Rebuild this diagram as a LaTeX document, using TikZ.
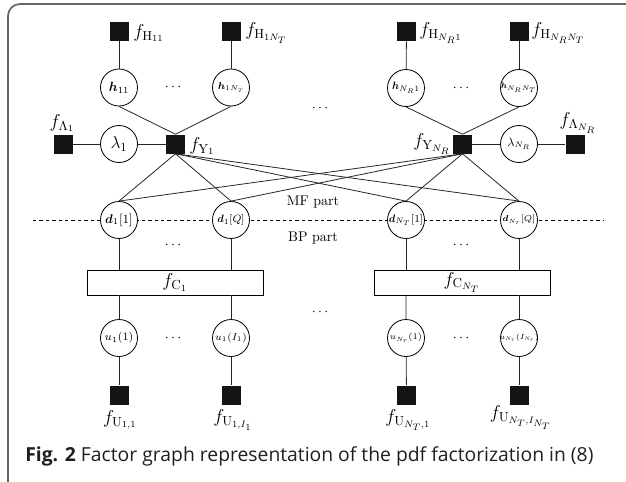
\RequirePackage{fix-cm}
\documentclass[tikz,border=0pt]{standalone}
\usepackage{fontspec}
\usepackage{bm}
\newfontfamily\capfont{Open Sans}
\newcommand{\cz}[2]{\makebox[0pt]{\fontsize{#1}{#1}\selectfont$#2$}}
\begin{document}
\begin{tikzpicture}[x=0.75pt,y=-0.75pt,
  var/.style={circle,draw,fill=white,minimum size=27.75pt,inner sep=0pt,line width=0.6pt},
  fac/.style={rectangle,fill=black!92,minimum size=14.25pt,inner sep=0pt},
  cbox/.style={rectangle,draw,fill=white,minimum width=132pt,minimum height=18.75pt,inner sep=0pt,line width=0.6pt},
  lab/.style={inner sep=0pt,font=\fontsize{14}{16}\selectfont},
  edge/.style={line width=0.6pt,black!85},
  dts/.style={inner sep=0pt,font=\fontsize{10.5}{12}\selectfont}]
\useasboundingbox (0,0) rectangle (626,482);
\clip (0,0) rectangle (626,482);
\draw[black!60,line width=1.3pt,rounded corners=9pt] (8,700) -- (8,4) -- (700,4);

% dashed separator
\draw[dashed,line width=0.6pt,dash pattern=on 2.6pt off 2.2pt] (33,220) -- (603,220);

% factor nodes top
\node[fac] (fH11) at (119,31.5) {};
\node[fac] (fH1N) at (231,31.5) {};
\node[fac] (fHN1) at (406.5,31.5) {};
\node[fac] (fHNN) at (519,31.5) {};
\node[var] (h11) at (119,87.5) {\cz{10}{\bm{h}_{11}}};
\node[var] (h1N) at (231,87.5) {\cz{7.5}{\bm{h}_{1N_T}}};
\node[var] (hN1) at (406,88) {\cz{8}{\bm{h}_{N_R1}}};
\node[var] (hNN) at (519,88) {\cz{6}{\bm{h}_{N_RN_T}}};

\node[fac] (fL1) at (63,144) {};
\node[var] (l1) at (119,144) {\cz{13}{\lambda_1}};
\node[fac] (fY1) at (175.5,144) {};
\node[fac] (fYN) at (462.5,144) {};
\node[var] (lN) at (519,144) {\cz{9}{\lambda_{N_R}}};
\node[fac] (fLN) at (575,144) {};

\node[var] (d11) at (119,220) {\cz{9.5}{\bm{d}_1[1]}};
\node[var] (d1Q) at (231,220) {\cz{8}{\bm{d}_1[Q]}};
\node[var] (dN1) at (406,220) {\cz{8}{\bm{d}_{N_T}[1]}};
\node[var] (dNQ) at (519,220) {\cz{6.5}{\bm{d}_{N_T}[Q]}};

\node[cbox] (fC1) at (175,282.5) {\fontsize{14}{16}\selectfont$f_{\mathrm{C}_1}$};
\node[cbox] (fCN) at (462,282.5) {\fontsize{14}{16}\selectfont$f_{\mathrm{C}_{N_T}}$};

\node[var] (u11) at (119,338) {\cz{8.5}{u_1(1)}};
\node[var] (u1I) at (231,338) {\cz{7.5}{u_1(I_1)}};
\node[var] (uN1) at (406,338) {\cz{6.5}{u_{N_T}(1)}};
\node[var] (uNI) at (519,338) {\cz{5.5}{u_{N_T}(I_{N_T})}};

\node[fac] (fU11) at (119,395) {};
\node[fac] (fU1I) at (231,395) {};
\node[fac] (fUN1) at (406.5,395) {};
\node[fac] (fUNI) at (519,395) {};

% labels
\node[lab,anchor=west] (LH11) at (133,33) {$f_{\mathrm{H}_{11}}$};
\node[lab,anchor=west] (LH1N) at (245,33) {$f_{\mathrm{H}_{1N_T}}$};
\node[lab,anchor=west] (LHN1) at (419,33) {$f_{\mathrm{H}_{N_R1}}$};
\node[lab,anchor=west] (LHNN) at (531,33) {$f_{\mathrm{H}_{N_RN_T}}$};
\node[lab] (LL1) at (62,123) {$f_{\Lambda_1}$};
\node[lab] (LLN) at (578,123) {$f_{\Lambda_{N_R}}$};
\node[lab,anchor=west] (LY1) at (189,146) {$f_{\mathrm{Y}_1}$};
\node[lab,anchor=east] (LYN) at (451,144) {$f_{\mathrm{Y}_{N_R}}$};
\node[lab] (LU11) at (120,420) {$f_{\mathrm{U}_{1,1}}$};
\node[lab] (LU1I) at (233,420) {$f_{\mathrm{U}_{1,I_1}}$};
\node[lab] (LUN1) at (408,420) {$f_{\mathrm{U}_{N_T,1}}$};
\node[lab] (LUNI) at (521,418) {$f_{\mathrm{U}_{N_T,I_{N_T}}}$};

\node[dts] (MF) at (313,202) {MF part};
\node[dts] (BP) at (313,238) {BP part};

% dots
\foreach \n/\x/\y in {a/173/87, b/461/88, c/320/108, d/173/245, e/461/245, f/320/312, g/173/338, h/461/338}
  \node[dts] (dot\n) at (\x,\y) {$\cdots$};

% edges
\draw[edge] (fH11) -- (h11);
\draw[edge] (fH1N) -- (h1N);
\draw[edge] (fHN1) -- (hN1);
\draw[edge] (fHNN) -- (hNN);
\draw[edge] (h11.south) -- (fY1.north);
\draw[edge] (h1N.south) -- (fY1.north);
\draw[edge] (hN1.south) -- (fYN.north);
\draw[edge] (hNN.south) -- (fYN.north);
\draw[edge] (fL1) -- (l1) -- (fY1);
\draw[edge] (fYN) -- (lN) -- (fLN);
\foreach \d in {d11,d1Q,dN1,dNQ}{
  \draw[edge] (fY1.south) -- (\d.north);
  \draw[edge] (fYN.south) -- (\d.north);
}
\draw[edge] (d11) -- (d11 |- fC1.north);
\draw[edge] (d1Q) -- (d1Q |- fC1.north);
\draw[edge] (dN1) -- (dN1 |- fCN.north);
\draw[edge] (dNQ) -- (dNQ |- fCN.north);
\draw[edge] (u11 |- fC1.south) -- (u11) -- (fU11);
\draw[edge] (u1I |- fC1.south) -- (u1I) -- (fU1I);
\draw[edge] (uN1 |- fCN.south) -- (uN1) -- (fUN1);
\draw[edge] (uNI |- fCN.south) -- (uNI) -- (fUNI);

% caption
\node[anchor=west,inner sep=0pt,text=black!88,font=\capfont\fontsize{14.5}{17}\selectfont] (cap) at (25,456) {\textbf{Fig. 2} Factor graph representation of the pdf factorization in (8)};
\end{tikzpicture}
\end{document}
